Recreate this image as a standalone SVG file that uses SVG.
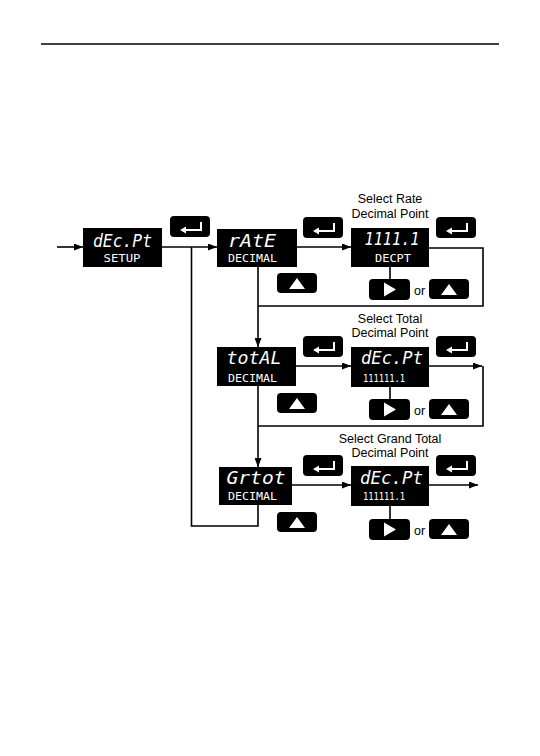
<svg xmlns="http://www.w3.org/2000/svg" width="540" height="756" viewBox="0 0 540 756">
<style>
.disp{fill:#000}
.big{font-family:"DejaVu Sans Mono","Liberation Mono",monospace;font-style:oblique;font-size:18px;fill:#fff;text-anchor:middle}
.small{font-family:"DejaVu Sans Mono","Liberation Mono",monospace;font-size:10px;fill:#fff;text-anchor:middle}
.lbl{font-family:"Liberation Sans",Arial,sans-serif;font-size:12.5px;fill:#000;text-anchor:middle}
.btn{fill:#000}
.ico{fill:none;stroke:#fff;stroke-width:2}
.icf{fill:#fff}
.ln{fill:none;stroke:#000;stroke-width:1.6}
</style>
<defs>
<marker id="ah" markerWidth="9" markerHeight="7" refX="9" refY="3.5" orient="auto" markerUnits="userSpaceOnUse">
<path d="M0,0 L9,3.5 L0,7 Z" fill="#000"/>
</marker>
<g id="enter">
<rect x="0" y="0" width="40" height="21" rx="4" class="btn"/>
<path d="M31 6 V14 H15" class="ico"/>
<path d="M10 14 L16 10.5 L16 17.5 Z" class="icf"/>
</g>
<g id="up">
<rect x="0" y="0" width="40" height="20" rx="4" class="btn"/>
<path d="M12 16 L20 5 L28 16 Z" class="icf"/>
</g>
<g id="right">
<rect x="0" y="0" width="41" height="21" rx="4" class="btn"/>
<path d="M15 3.5 L27 10.5 L15 17.5 Z" class="icf"/>
</g>
</defs>

<line x1="41" y1="44" x2="499" y2="44" stroke="#000" stroke-width="1.5"/>

<g id="connectors">
<line x1="57" y1="247" x2="83" y2="247" class="ln" marker-end="url(#ah)"/>
<line x1="162" y1="247" x2="217" y2="247" class="ln" marker-end="url(#ah)"/>
<polyline points="191.5,247 191.5,526 258,526 258,505" class="ln"/>
<line x1="297" y1="247" x2="351" y2="247" class="ln" marker-end="url(#ah)"/>
<line x1="258" y1="267" x2="258" y2="347" class="ln" marker-end="url(#ah)"/>
<line x1="390" y1="267" x2="390" y2="279" class="ln"/>
<polyline points="429,248 483,248 483,306 258,306" class="ln"/>
<line x1="296" y1="366" x2="351" y2="366" class="ln" marker-end="url(#ah)"/>
<line x1="258" y1="386" x2="258" y2="467" class="ln" marker-end="url(#ah)"/>
<line x1="390" y1="387" x2="390" y2="399" class="ln"/>
<line x1="429" y1="366" x2="482" y2="366" class="ln" marker-end="url(#ah)"/>
<polyline points="483,366 483,426 258,426" class="ln"/>
<line x1="292" y1="485" x2="351" y2="485" class="ln" marker-end="url(#ah)"/>
<line x1="390" y1="506" x2="390" y2="519" class="ln"/>
<line x1="429" y1="485" x2="478" y2="485" class="ln" marker-end="url(#ah)"/>
</g>

<g id="n-decpt-setup">
<rect x="83" y="228" width="79" height="39" class="disp"/>
<text x="122.5" y="247" class="big" textLength="59" lengthAdjust="spacingAndGlyphs">dEc.Pt</text>
<text x="122" y="262" class="small" textLength="37" lengthAdjust="spacingAndGlyphs">SETUP</text>
</g>

<g id="n-rate">
<rect x="217" y="229" width="80" height="38" class="disp"/>
<text x="252" y="247" class="big" textLength="48" lengthAdjust="spacingAndGlyphs">rAtE</text>
<text x="252.5" y="262" class="small" textLength="49" lengthAdjust="spacingAndGlyphs">DECIMAL</text>
</g>

<g id="n-rate-dp">
<text x="390" y="203" class="lbl">Select Rate</text>
<text x="390" y="218" class="lbl">Decimal Point</text>
<rect x="351" y="228" width="78" height="39" class="disp"/>
<text x="392" y="245" class="big" textLength="55" lengthAdjust="spacingAndGlyphs">1111.1</text>
<text x="393" y="262" class="small" textLength="36" lengthAdjust="spacingAndGlyphs">DECPT</text>
</g>

<g id="n-total">
<rect x="217" y="347" width="79" height="39" class="disp"/>
<text x="254" y="364" class="big" textLength="55" lengthAdjust="spacingAndGlyphs">totAL</text>
<text x="252.5" y="382" class="small" textLength="49" lengthAdjust="spacingAndGlyphs">DECIMAL</text>
</g>

<g id="n-total-dp">
<text x="390" y="323" class="lbl">Select Total</text>
<text x="390" y="337" class="lbl">Decimal Point</text>
<rect x="351" y="347" width="78" height="40" class="disp"/>
<text x="392" y="364" class="big" textLength="62" lengthAdjust="spacingAndGlyphs">dEc.Pt</text>
<text x="384" y="382" class="small" textLength="42" lengthAdjust="spacingAndGlyphs">111111.1</text>
</g>

<g id="n-grtot">
<rect x="219" y="467" width="73" height="38" class="disp"/>
<text x="256" y="484" class="big" textLength="59" lengthAdjust="spacingAndGlyphs">Grtot</text>
<text x="252.5" y="500" class="small" textLength="49" lengthAdjust="spacingAndGlyphs">DECIMAL</text>
</g>

<g id="n-grtot-dp">
<text x="390" y="443" class="lbl">Select Grand Total</text>
<text x="390" y="457" class="lbl">Decimal Point</text>
<rect x="351" y="466" width="78" height="40" class="disp"/>
<text x="391.5" y="484" class="big" textLength="63" lengthAdjust="spacingAndGlyphs">dEc.Pt</text>
<text x="384" y="500" class="small" textLength="42" lengthAdjust="spacingAndGlyphs">111111.1</text>
</g>

<g id="buttons">
<use href="#enter" x="170" y="216"/>
<use href="#enter" x="303" y="217"/>
<use href="#enter" x="436" y="217"/>
<use href="#enter" x="303" y="336"/>
<use href="#enter" x="436" y="336"/>
<use href="#enter" x="303" y="455"/>
<use href="#enter" x="436" y="455"/>
<use href="#up" x="277" y="273"/>
<use href="#up" x="277" y="393"/>
<use href="#up" x="277" y="512"/>
<use href="#right" x="369" y="279"/>
<use href="#right" x="369" y="399"/>
<use href="#right" x="369" y="519"/>
<use href="#up" x="429" y="279"/>
<use href="#up" x="429" y="399"/>
<use href="#up" x="429" y="519"/>
<text x="419.5" y="295" class="lbl" font-size="13">or</text>
<text x="419.5" y="415" class="lbl" font-size="13">or</text>
<text x="419.5" y="535" class="lbl" font-size="13">or</text>
</g>
</svg>
